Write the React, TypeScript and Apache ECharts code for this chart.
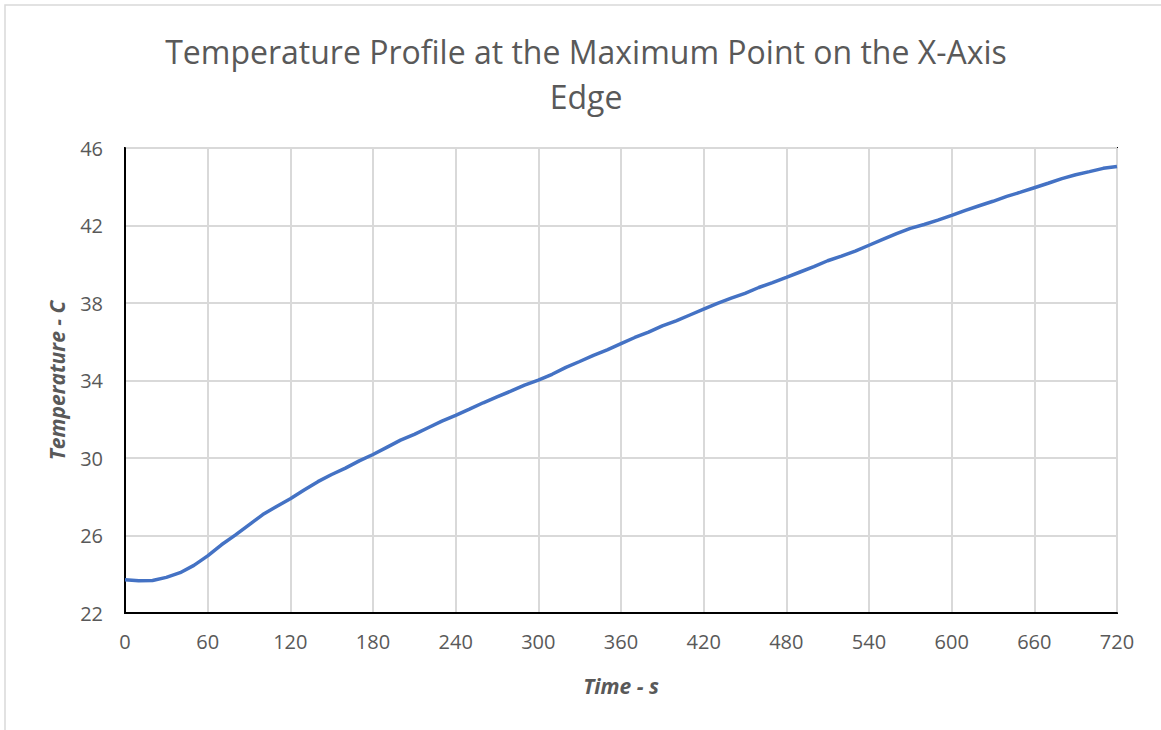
import React, { useEffect, useRef } from "react";
import * as echarts from "echarts";

const titleLines = ["Temperature Profile at the Maximum Point on the X-Axis", "Edge"];
const xName = "Time - s";
const yName = "Temperature - C";
const timeSeconds = [
  0, 10, 20, 30, 40, 50, 60, 70, 80, 90, 100, 110, 120, 130, 140, 150, 160, 170, 180, 190,
  200, 210, 220, 230, 240, 250, 260, 270, 280, 290, 300, 310, 320, 330, 340, 350, 360, 370,
  380, 390, 400, 410, 420, 430, 440, 450, 460, 470, 480, 490, 500, 510, 520, 530, 540, 550,
  560, 570, 580, 590, 600, 610, 620, 630, 640, 650, 660, 670, 680, 690, 700, 710, 720,
];
const temperature = [
  23.72, 23.66, 23.68, 23.84, 24.08, 24.46, 24.95, 25.52, 26.02, 26.55, 27.08, 27.5, 27.9,
  28.35, 28.78, 29.15, 29.48, 29.85, 30.18, 30.55, 30.92, 31.22, 31.56, 31.9, 32.2, 32.52,
  32.85, 33.15, 33.45, 33.76, 34.02, 34.32, 34.68, 34.98, 35.3, 35.58, 35.9, 36.22, 36.5,
  36.82, 37.08, 37.38, 37.68, 37.98, 38.25, 38.5, 38.8, 39.05, 39.32, 39.6, 39.88, 40.18,
  40.42, 40.68, 40.98, 41.28, 41.58, 41.85, 42.05, 42.28, 42.52, 42.78, 43.02, 43.25, 43.5,
  43.72, 43.95, 44.18, 44.42, 44.62, 44.78, 44.95, 45.05,
];

export default function App() {
  const ref = useRef<HTMLDivElement>(null);
  useEffect(() => {
    document.body.style.margin = "0";
    const chart = echarts.init(ref.current!, undefined, { renderer: "svg" });
    const font = "'Open Sans', 'Noto Sans', sans-serif";
    chart.setOption({
      animation: false,
      backgroundColor: "#ffffff",
      textStyle: { fontFamily: font },
      graphic: [
        {
          type: "rect",
          shape: { x: 5, y: 5, width: 1200, height: 800 },
          style: { fill: "none", stroke: "#d9d9d9", lineWidth: 1.5 },
          silent: true,
        },
        {
          type: "text",
          x: 586,
          y: 51,
          style: {
            text: titleLines[0],
            fontFamily: font,
            fontSize: 32,
            fill: "#595959",
            align: "center",
            verticalAlign: "middle",
          },
        },
        {
          type: "text",
          x: 586,
          y: 96,
          style: {
            text: titleLines[1],
            fontFamily: font,
            fontSize: 32,
            fill: "#595959",
            align: "center",
            verticalAlign: "middle",
          },
        },
      ],
      grid: {
        left: 125,
        right: 44,
        top: 148,
        bottom: 117,
        show: true,
        borderColor: "#000000",
        borderWidth: 2,
        containLabel: false,
      },
      xAxis: {
        type: "value",
        min: 0,
        max: 720,
        interval: 60,
        name: xName,
        nameLocation: "middle",
        nameGap: 62,
        nameTextStyle: { fontFamily: font, fontSize: 21, fontWeight: "bold", fontStyle: "italic", color: "#595959" },
        axisLine: { show: true, lineStyle: { color: "#000000", width: 2 } },
        axisTick: { show: false },
        axisLabel: { fontFamily: font, fontSize: 20, color: "#595959", margin: 18 },
        splitLine: { show: true, lineStyle: { color: "#d9d9d9", width: 2 } },
      },
      yAxis: {
        type: "value",
        min: 22,
        max: 46,
        interval: 4,
        name: yName,
        nameLocation: "middle",
        nameGap: 58,
        nameRotate: 90,
        nameTextStyle: { fontFamily: font, fontSize: 21, fontWeight: "bold", fontStyle: "italic", color: "#595959" },
        axisLine: { show: true, lineStyle: { color: "#000000", width: 2 } },
        axisTick: { show: false },
        axisLabel: { fontFamily: font, fontSize: 20, color: "#595959", margin: 22 },
        splitLine: { show: true, lineStyle: { color: "#d9d9d9", width: 2 } },
      },
      series: [
        {
          type: "line",
          data: timeSeconds.map((t, i) => [t, temperature[i]]),
          showSymbol: false,
          smooth: false,
          lineStyle: { color: "#4472C4", width: 3.5 },
          itemStyle: { color: "#4472C4" },
        },
      ],
    });
    return () => chart.dispose();
  }, []);
  return <div ref={ref} style={{ width: 1161, height: 730 }} />;
}
